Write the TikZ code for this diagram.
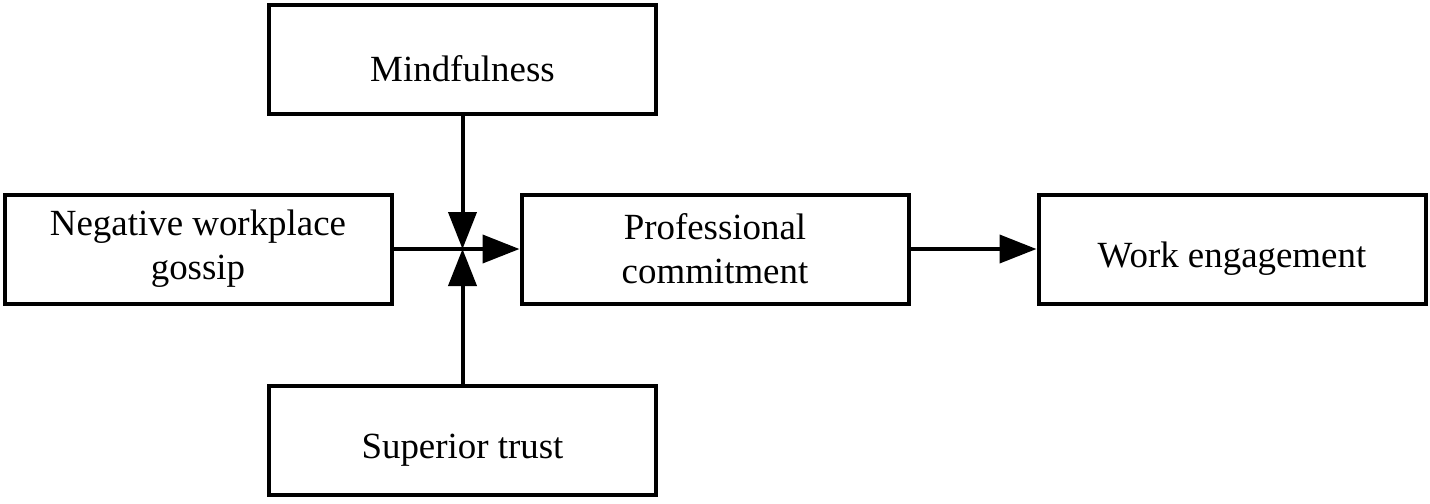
\documentclass[tikz,border=0pt]{standalone}
\usepackage{fontspec}
\setmainfont{Liberation Serif}
\usetikzlibrary{arrows.meta,positioning}

\tikzset{
  varbox/.style={draw, line width=0.08cm, minimum width=7.74cm, minimum height=2.18cm,
    align=center, font=\fontsize{21}{25}\selectfont, inner sep=0pt,
    execute at begin node=\rule{0pt}{0.9cm}},
  pathto/.style={line width=0.08cm, -{Triangle[length=0.74cm,width=0.56cm]}}
}

\begin{document}
\begin{tikzpicture}
  \useasboundingbox (0,0) rectangle (28.6,-10.06);
%boxes
  \node[varbox] (mind) at (9.25,-1.19) {Mindfulness};
  \node[varbox] (gossip) at (3.96,-4.98) {Negative workplace\\gossip};
  \node[varbox] (commit) at (14.3,-4.98) {Professional\\commitment};
  \node[varbox] (engage) at (24.64,-4.98) {Work engagement};
  \node[varbox] (trust) at (9.25,-8.8) {Superior trust};
  \coordinate (J) at (9.25,-4.98);
%paths
  \draw[pathto] (gossip.east) -- (commit.west);
  \draw[pathto] (commit.east) -- (engage.west);
  \draw[pathto] (mind.south) -- (J);
  \draw[pathto] (trust.north) -- (J);
\end{tikzpicture}
\end{document}
